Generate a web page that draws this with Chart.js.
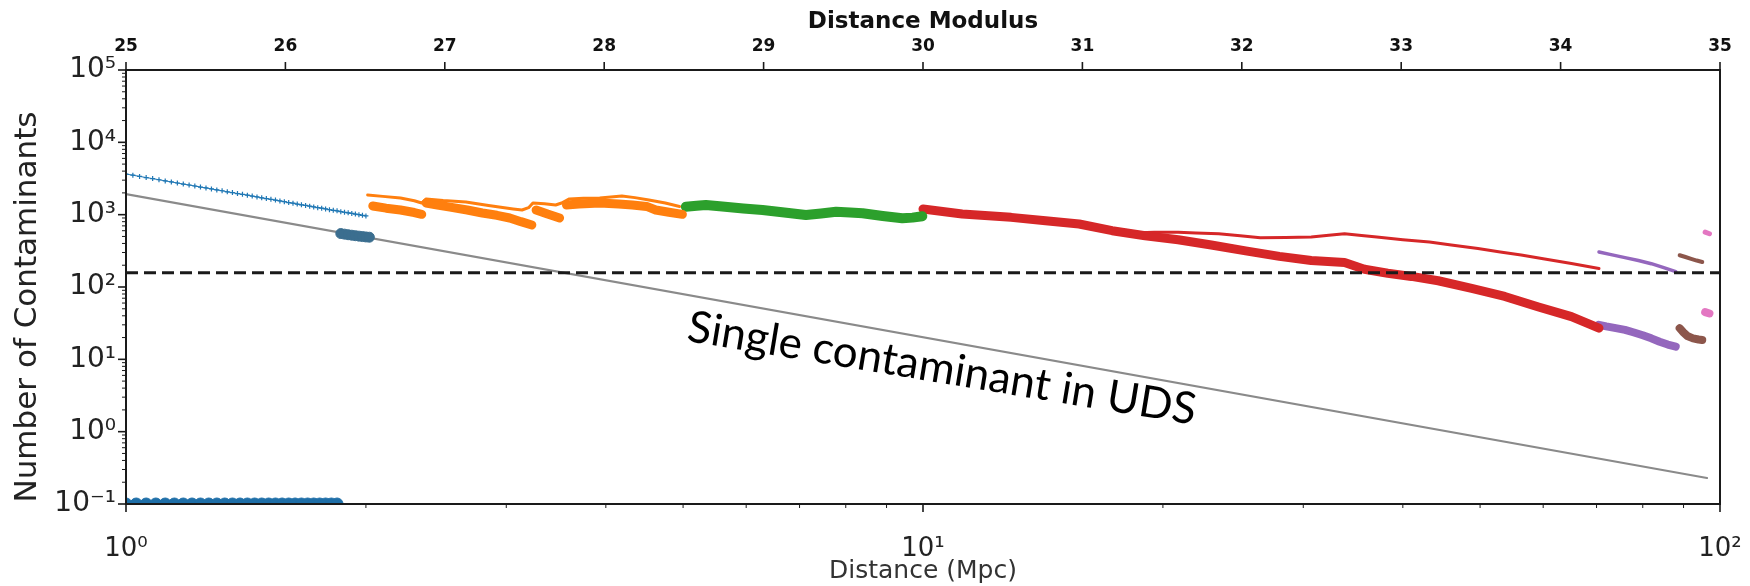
<!DOCTYPE html>
<html>
<head>
<meta charset="utf-8">
<script src="https://cdn.jsdelivr.net/npm/chart.js@4.4.1/dist/chart.umd.min.js"></script>
<style>
  html, body { margin: 0; padding: 0; background: #fff; }
  #wrap { width: 1750px; height: 586px; }
</style>
</head>
<body>
<div id="wrap"><canvas id="contaminants"></canvas></div>
<script>
// values: distance (Mpc) and number of contaminants
var blueTopDist = [1.00, 1.02, 1.04, 1.06, 1.08, 1.10, 1.12, 1.14, 1.16, 1.18, 1.20, 1.22, 1.24, 1.26, 1.28, 1.30, 1.32,
    1.34, 1.36, 1.38, 1.40, 1.42, 1.44, 1.46, 1.48, 1.50, 1.52, 1.54, 1.56, 1.58, 1.60, 1.62, 1.64, 1.66, 1.68, 1.70,
    1.72, 1.74, 1.76, 1.78, 1.80, 1.82, 1.84, 1.86, 1.88, 1.90, 1.92, 1.94, 1.96, 1.98, 2.00];
var blueTopCount = [3650, 3510, 3380, 3260, 3150, 3040, 2930, 2840, 2740, 2650, 2570, 2490, 2410, 2340, 2270, 2200, 2140,
    2070, 2020, 1960, 1910, 1860, 1810, 1760, 1710, 1670, 1630, 1590, 1550, 1510, 1470, 1440, 1400, 1370, 1340, 1310,
    1280, 1250, 1230, 1200, 1170, 1150, 1130, 1100, 1080, 1060, 1040, 1020, 1000, 980, 960];

var blueFloorDist = [1.00, 1.03, 1.06, 1.09, 1.12, 1.15, 1.18, 1.21, 1.24, 1.27, 1.30, 1.33, 1.36, 1.39, 1.42, 1.45,
    1.48, 1.51, 1.54, 1.57, 1.60, 1.63, 1.66, 1.69, 1.72, 1.75, 1.78, 1.81, 1.84];
var blueFloorCount = [0.1, 0.1, 0.1, 0.1, 0.1, 0.1, 0.1, 0.1, 0.1, 0.1, 0.1, 0.1, 0.1, 0.1, 0.1, 0.1,
    0.1, 0.1, 0.1, 0.1, 0.1, 0.1, 0.1, 0.1, 0.1, 0.1, 0.1, 0.1, 0.1];

var blueClumpDist = [1.86, 1.88, 1.90, 1.92, 1.94, 1.96, 1.98, 2.00, 2.02];
var blueClumpCount = [548, 538, 528, 520, 512, 505, 498, 492, 488];

var orangeTopDist = [2.01, 2.10, 2.21, 2.30, 2.35, 2.38, 2.50, 2.67, 2.85, 3.06, 3.14, 3.20, 3.24, 3.35, 3.46, 3.52,
    3.60, 3.75, 3.93, 4.19, 4.35, 4.53, 4.75, 4.95];
var orangeTopCount = [1870, 1790, 1700, 1560, 1450, 1650, 1570, 1500, 1340, 1200, 1160, 1250, 1450, 1420, 1360, 1450,
    1650, 1680, 1700, 1810, 1720, 1600, 1450, 1300];

// null = break in the band
var orangeLowDist = [2.04, 2.12, 2.21, 2.30, 2.35, null, 2.38, 2.46, 2.55, 2.68, 2.80, 2.92, 3.03, 3.13, 3.23, null,
    3.27, 3.38, 3.50, null, 3.57, 3.70, 3.93, 4.15, 4.32, 4.50, 4.62, 4.80, 4.99];
var orangeLowCount = [1318, 1230, 1160, 1070, 1010, null, 1450, 1360, 1270, 1160, 1055, 980, 900, 800, 720, null,
    1160, 1020, 900, null, 1360, 1400, 1450, 1400, 1360, 1300, 1160, 1080, 1010];

var greenDist = [5.04, 5.2, 5.34, 5.6, 5.95, 6.29, 6.7, 7.13, 7.45, 7.78, 8.1, 8.4, 8.9, 9.42, 9.7, 9.98];
var greenCount = [1290, 1330, 1360, 1300, 1220, 1160, 1070, 990, 1040, 1100, 1070, 1045, 960, 890, 910, 950];

var redLowDist = [10.0, 11.2, 12.9, 14.25, 15.7, 17.27, 19.0, 20.9, 23, 25.4, 28, 30.7, 33.8, 35.8, 38.3, 41, 44.3,
    48.8, 53.7, 59.2, 65.1, 70.5];
var redLowCount = [1197, 1021, 918, 826, 743, 600, 512, 450, 380, 316, 265, 232, 218, 176, 155, 140, 122,
    96, 74, 53, 39, 27];

var redTopDist = [18.3, 19.5, 20.9, 22, 23.5, 25, 26.5, 28.5, 30.7, 32.3, 33.8, 35.5, 37.1, 40, 43.2, 46, 49.7,
    53, 56.3, 60, 65.1, 70.5];
var redTopCount = [560, 570, 572, 560, 543, 510, 479, 485, 490, 520, 543, 515, 490, 450, 420, 380, 340,
    305, 277, 245, 211, 180];

var purpleTopDist = [70.5, 73, 76, 79, 82, 85, 88];
var purpleTopCount = [305, 280, 255, 232, 210, 185, 163];
var purpleLowDist = [70.5, 72, 74, 76, 78, 80, 82, 84, 86, 88];
var purpleLowCount = [30, 28.5, 27, 25.5, 23.5, 21.5, 19.5, 17.5, 16, 15];

var brownTopDist = [89, 90.5, 92, 93.5, 95];
var brownTopCount = [275, 260, 245, 232, 222];
var brownLowDist = [89, 90, 91, 92.5, 94, 95];
var brownLowCount = [27, 23.5, 21, 19.5, 18.8, 18.5];

var pinkTopDist = [95.8, 97];
var pinkTopCount = [575, 545];
var pinkLowDist = [95.8, 97];
var pinkLowCount = [45, 43];

// single contaminant in UDS (grey) and the dashed threshold
var singleDist = [1, 96.3];
var singleCount = [1930, 0.229];
var limitDist = [1, 100];
var limitCount = [158, 158];

// tick labels
var xTickValues = [1, 10, 100];
var xTickLabels = ['10\u2070', '10\u00b9', '10\u00b2'];
var yTickValues = [0.1, 1, 10, 100, 1000, 10000, 100000];
var yTickLabels = ['10\u207b\u00b9', '10\u2070', '10\u00b9', '10\u00b2', '10\u00b3', '10\u2074', '10\u2075'];
var modulusTicks = [25, 26, 27, 28, 29, 30, 31, 32, 33, 34, 35];

var yTitle = 'Number of Contaminants';
var noteText = 'Single contaminant in UDS';
var noteAt = { dist: 5.04, count: 18.1, angle: 9.4 };

function pts(ds, ns) {
    return ds.map(function (d, i) { return { x: d, y: ns[i] }; });
}

// 1,2,...,9,10,20,... between min and max
function logTicks(min, max) {
    var out = [];
    for (var e = Math.round(Math.log10(min)); e <= Math.round(Math.log10(max)); e++) {
        for (var k = 1; k <= 9; k++) {
            var v = parseFloat((k * Math.pow(10, e)).toPrecision(6));
            if (v >= min && v <= max) out.push({ value: v, major: k === 1 });
        }
    }
    return out;
}

function band(label, ds, ns, color, width) {
    return {
        label: label, data: pts(ds, ns), showLine: true, borderColor: color, backgroundColor: color,
        borderWidth: width, pointRadius: 0, borderCapStyle: 'round', borderJoinStyle: 'round', spanGaps: false, clip: 0
    };
}

// keep the edge labels from squeezing the plot area
function noSidePadding(s) {
    s.paddingLeft = 0;
    s.paddingRight = 0;
}

// frame + tick marks (long for decades, short for the rest) + y title
var frameTicks = {
    id: 'frameTicks',
    afterDraw: function (chart) {
        var ctx = chart.ctx, a = chart.chartArea;
        ctx.save();
        ctx.strokeStyle = '#1a1a1a';
        ctx.lineWidth = 2;
        ctx.strokeRect(a.left, a.top, a.right - a.left, a.bottom - a.top);
        ['x', 'y', 'x2'].forEach(function (id) {
            var s = chart.scales[id];
            s.ticks.forEach(function (t) {
                var p = s.getPixelForValue(t.value);
                var len = t.major ? 8 : 4;
                ctx.lineWidth = t.major ? 1.6 : 1;
                ctx.beginPath();
                if (id === 'y') { ctx.moveTo(a.left, p); ctx.lineTo(a.left - len, p); }
                else if (id === 'x') { ctx.moveTo(p, a.bottom); ctx.lineTo(p, a.bottom + len); }
                else { ctx.moveTo(p, a.top); ctx.lineTo(p, a.top - len); }
                ctx.stroke();
            });
        });
        // y title sits a little below the axis centre in the original
        ctx.translate(28, (a.top + a.bottom) / 2 + 20);
        ctx.rotate(-Math.PI / 2);
        ctx.font = '31px "DejaVu Sans"';
        ctx.fillStyle = '#222';
        ctx.textAlign = 'center';
        ctx.textBaseline = 'middle';
        ctx.fillText(yTitle, 0, 0);
        ctx.restore();
    }
};

var note = {
    id: 'note',
    afterDatasetsDraw: function (chart) {
        var ctx = chart.ctx;
        var px = chart.scales.x.getPixelForValue(noteAt.dist);
        var py = chart.scales.y.getPixelForValue(noteAt.count);
        ctx.save();
        ctx.translate(px, py);
        ctx.rotate(noteAt.angle * Math.PI / 180);
        ctx.font = '44px Lato';
        ctx.fillStyle = '#000';
        ctx.textBaseline = 'alphabetic';
        ctx.fillText(noteText, 0, 0);
        ctx.restore();
    }
};

var ctx = document.getElementById('contaminants').getContext('2d');

var chart = new Chart(ctx, {
    type: 'scatter',
    data: {
        datasets: [
            {
                label: 'limit', data: pts(limitDist, limitCount), showLine: true, borderColor: '#1a1a1a',
                borderWidth: 3, borderDash: [12, 6], pointRadius: 0, clip: 0
            },
            band('orange top', orangeTopDist, orangeTopCount, '#ff7f0e', 3),
            band('red top', redTopDist, redTopCount, '#d62728', 3),
            band('purple top', purpleTopDist, purpleTopCount, '#9467bd', 3.5),
            band('brown top', brownTopDist, brownTopCount, '#8c564b', 4),
            band('pink top', pinkTopDist, pinkTopCount, '#e377c2', 5),
            band('orange low', orangeLowDist, orangeLowCount, '#ff7f0e', 9),
            band('green', greenDist, greenCount, '#2ca02c', 10),
            band('red low', redLowDist, redLowCount, '#d62728', 9),
            band('purple low', purpleLowDist, purpleLowCount, '#9467bd', 8),
            band('brown low', brownLowDist, brownLowCount, '#8c564b', 8),
            band('pink low', pinkLowDist, pinkLowCount, '#e377c2', 8),
            {
                label: 'blue top', data: pts(blueTopDist, blueTopCount), showLine: true, borderColor: '#1f77b4',
                borderWidth: 1, pointStyle: 'cross', pointRadius: 2.5, pointBorderWidth: 1.2,
                pointBorderColor: '#1f77b4', clip: 0
            },
            {
                label: 'blue clump', data: pts(blueClumpDist, blueClumpCount), pointRadius: 5,
                backgroundColor: '#3b6e8f', borderColor: '#3b6e8f', clip: 0
            },
            {
                label: 'blue floor', data: pts(blueFloorDist, blueFloorCount), pointRadius: 6,
                backgroundColor: '#1f6fa8', borderColor: '#1f6fa8', clip: 0
            },
            band('single contaminant', singleDist, singleCount, '#8a8a8a', 2.2)
        ]
    },
    options: {
        responsive: true,
        maintainAspectRatio: false,
        animation: false,
        devicePixelRatio: 1,
        layout: { padding: { left: 0, right: 30, top: 0, bottom: 0 } },
        plugins: { legend: { display: false }, tooltip: { enabled: false } },
        scales: {
            x: {
                type: 'logarithmic', position: 'bottom', min: 1, max: 100,
                afterBuildTicks: function (s) { s.ticks = logTicks(1, 100); },
                afterFit: function (s) { s.height = 82; noSidePadding(s); },
                grid: { display: false, drawTicks: false },
                border: { display: false },
                ticks: {
                    autoSkip: false, maxRotation: 0, padding: 30, color: '#222',
                    font: { family: 'DejaVu Sans', size: 26 },
                    callback: function (v) { var i = xTickValues.indexOf(v); return i >= 0 ? xTickLabels[i] : ''; }
                },
                title: {
                    display: true, text: 'Distance (Mpc)', color: '#333',
                    font: { family: 'DejaVu Sans', size: 25 }, padding: { top: 0, bottom: 0 }
                }
            },
            x2: {
                type: 'linear', position: 'top', min: 25, max: 35,
                afterBuildTicks: function (s) { s.ticks = modulusTicks.map(function (v) { return { value: v, major: true }; }); },
                afterFit: function (s) { s.height = 70; noSidePadding(s); },
                grid: { display: false, drawTicks: false },
                border: { display: false },
                ticks: {
                    autoSkip: false, maxRotation: 0, padding: 13, color: '#111',
                    font: { family: 'DejaVu Sans', size: 17, weight: 'bold' }
                },
                title: {
                    display: true, text: 'Distance Modulus', color: '#111',
                    font: { family: 'DejaVu Sans', size: 23, weight: 'bold' }, padding: { top: 8, bottom: 0 }
                }
            },
            y: {
                type: 'logarithmic', position: 'left', min: 0.1, max: 100000,
                afterBuildTicks: function (s) { s.ticks = logTicks(0.1, 100000); },
                afterFit: function (s) { s.width = 126; },
                grid: { display: false, drawTicks: false },
                border: { display: false },
                ticks: {
                    autoSkip: false, padding: 10, color: '#222',
                    font: { family: 'DejaVu Sans', size: 28 },
                    callback: function (v) { var i = yTickValues.indexOf(v); return i >= 0 ? yTickLabels[i] : ''; }
                },
                title: { display: false }
            }
        }
    },
    plugins: [frameTicks, note]
});
</script>
</body>
</html>
